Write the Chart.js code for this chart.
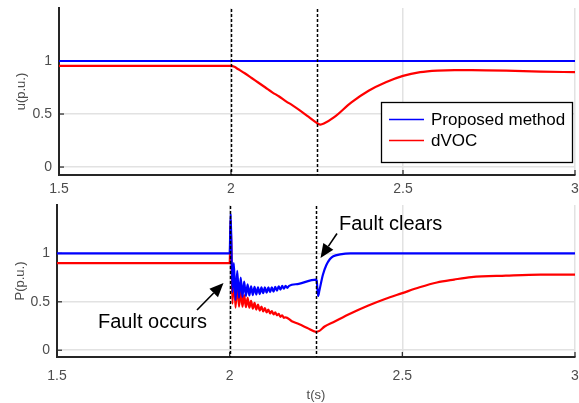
<!DOCTYPE html>
<html><head><meta charset="utf-8">
<script src="https://cdn.jsdelivr.net/npm/chart.js@4/dist/chart.umd.min.js"></script>
<style>
html,body{margin:0;padding:0;background:#fff;}
#wrap{position:relative;width:579px;height:403px;overflow:hidden;}
#c1{position:absolute;left:0;top:0;width:579px;height:195px;}
#c2{position:absolute;left:0;top:195px;width:579px;height:208px;}
</style></head><body>
<div id="wrap"><canvas id="c1" width="579" height="195"></canvas><canvas id="c2" width="579" height="208"></canvas></div>
<script>
// ---- data ----
const xTicks = [1.5, 2, 2.5, 3];
const uTicks = [0, 0.5, 1];
const pTicks = [0, 0.5, 1];
const faultTimes = [2.0, 2.25];
const seriesNames = ['Proposed method', 'dVOC'];

const tUBlue = [1.5, 3.0];
const uBlue  = [1.0, 1.0];

const tURed = [1.5, 2.0, 2.01, 2.02, 2.04, 2.06, 2.08, 2.1, 2.12, 2.14, 2.16, 2.18, 2.2, 2.225, 2.25, 2.26, 2.27, 2.3, 2.35, 2.4, 2.45, 2.5, 2.55, 2.6, 2.65, 2.7, 2.8, 2.9, 3.0];
const uRed  = [0.955, 0.955, 0.945, 0.925, 0.885, 0.84, 0.795, 0.75, 0.705, 0.665, 0.62, 0.58, 0.535, 0.475, 0.415, 0.40, 0.41, 0.47, 0.61, 0.72, 0.80, 0.86, 0.895, 0.91, 0.915, 0.915, 0.91, 0.90, 0.895];

const tPBlue = [1.5, 2.0, 2.003, 2.008, 2.012, 2.017, 2.022, 2.027, 2.032, 2.037, 2.042, 2.047, 2.052, 2.057, 2.062, 2.067, 2.072, 2.077, 2.082, 2.087, 2.092, 2.097, 2.102, 2.107, 2.112, 2.117, 2.122, 2.127, 2.132, 2.137, 2.142, 2.147, 2.152, 2.157, 2.162, 2.167, 2.172, 2.2, 2.25, 2.252, 2.256, 2.26, 2.27, 2.28, 2.29, 2.3, 2.32, 2.35, 3.0];
const pBlue  = [1.0, 1.0, 1.41, 0.60, 0.90, 0.52, 0.82, 0.54, 0.75, 0.55, 0.71, 0.56, 0.68, 0.565, 0.66, 0.57, 0.655, 0.575, 0.65, 0.58, 0.65, 0.59, 0.65, 0.595, 0.65, 0.60, 0.65, 0.605, 0.655, 0.615, 0.66, 0.625, 0.665, 0.635, 0.665, 0.645, 0.665, 0.685, 0.73, 0.72, 0.56, 0.62, 0.78, 0.88, 0.94, 0.97, 0.99, 1.0, 1.0];

const tPRed = [1.5, 2.0, 2.003, 2.008, 2.012, 2.017, 2.022, 2.027, 2.032, 2.037, 2.042, 2.047, 2.052, 2.057, 2.062, 2.067, 2.072, 2.077, 2.082, 2.087, 2.092, 2.097, 2.102, 2.107, 2.112, 2.117, 2.122, 2.127, 2.132, 2.137, 2.142, 2.147, 2.152, 2.157, 2.162, 2.18, 2.2, 2.225, 2.25, 2.26, 2.275, 2.3, 2.35, 2.4, 2.45, 2.5, 2.55, 2.6, 2.65, 2.7, 2.8, 2.9, 3.0];
const pRed  = [0.9, 0.9, 1.35, 0.48, 0.82, 0.44, 0.70, 0.45, 0.62, 0.45, 0.57, 0.445, 0.54, 0.44, 0.51, 0.43, 0.49, 0.42, 0.47, 0.41, 0.45, 0.40, 0.435, 0.39, 0.42, 0.38, 0.405, 0.37, 0.39, 0.36, 0.375, 0.345, 0.36, 0.335, 0.34, 0.30, 0.27, 0.23, 0.19, 0.20, 0.245, 0.29, 0.38, 0.46, 0.53, 0.59, 0.65, 0.70, 0.73, 0.755, 0.77, 0.78, 0.78];

// ---- helpers ----
const zip = (xs, ys) => xs.map((x, i) => ({x: x, y: ys[i]}));
const FONT = "'Liberation Sans', Arial, sans-serif";
const AXC = '#262626';
const TICKC = '#4d4d4d';
const GRIDC = '#e2e2e2';

const decorPlugin = {
  id: 'decor',
  beforeDatasetsDraw(chart) {
    const {ctx, chartArea: a, scales: {x, y}} = chart;
    ctx.save();
    ctx.strokeStyle = AXC; ctx.lineWidth = 1.2;
    y.ticks.forEach(t => { const py = y.getPixelForValue(t.value); ctx.beginPath(); ctx.moveTo(a.left, py); ctx.lineTo(a.left + 5, py); ctx.stroke(); });
    x.ticks.forEach(t => { const px = x.getPixelForValue(t.value); ctx.beginPath(); ctx.moveTo(px, a.bottom); ctx.lineTo(px, a.bottom - 5); ctx.stroke(); });
    ctx.restore();
  },
  afterDatasetsDraw(chart) {
    const {ctx, chartArea: a, scales: {x}} = chart;
    ctx.save();
    ctx.strokeStyle = '#000'; ctx.lineWidth = 1.5; ctx.setLineDash([3, 2]);
    faultTimes.forEach(t => { const px = Math.round(x.getPixelForValue(t)) + 0.5; ctx.beginPath(); ctx.moveTo(px, a.top + 1); ctx.lineTo(px, a.bottom); ctx.stroke(); });
    ctx.restore();
  }
};

function arrow(ctx, x0, y0, x1, y1) {
  const ang = Math.atan2(y1 - y0, x1 - x0);
  const hl = 14, hw = 6;
  const bx = x1 - hl * Math.cos(ang), by = y1 - hl * Math.sin(ang);
  ctx.beginPath(); ctx.moveTo(x0, y0); ctx.lineTo(bx, by); ctx.lineWidth = 1.6; ctx.strokeStyle = '#000'; ctx.stroke();
  ctx.beginPath();
  ctx.moveTo(x1, y1);
  ctx.lineTo(bx + hw * Math.sin(ang), by - hw * Math.cos(ang));
  ctx.lineTo(bx - hw * Math.sin(ang), by + hw * Math.cos(ang));
  ctx.closePath(); ctx.fillStyle = '#000'; ctx.fill();
}

const legendPlugin = {
  id: 'boxLegend',
  afterDraw(chart) {
    const ctx = chart.ctx;
    ctx.save();
    ctx.fillStyle = '#fff'; ctx.fillRect(381, 102, 192, 61);
    ctx.strokeStyle = '#000'; ctx.lineWidth = 1.3; ctx.strokeRect(381.5, 102.5, 191, 60);
    const cols = ['#0000ff', '#ff0000'];
    const ys = [119, 140];
    ctx.font = '17px ' + FONT; ctx.textBaseline = 'middle'; ctx.fillStyle = '#000';
    seriesNames.forEach((n, i) => {
      ctx.strokeStyle = cols[i]; ctx.lineWidth = 1.5;
      ctx.beginPath(); ctx.moveTo(389, ys[i] + 0.5); ctx.lineTo(424, ys[i] + 0.5); ctx.stroke();
      ctx.fillText(n, 431, ys[i] + 1);
    });
    ctx.restore();
  }
};

const annotPlugin = {
  id: 'annot',
  afterDraw(chart) {
    const ctx = chart.ctx;
    ctx.save();
    ctx.font = '20px ' + FONT; ctx.fillStyle = '#000'; ctx.textBaseline = 'alphabetic';
    ctx.fillText('Fault occurs', 98, 133);
    ctx.fillText('Fault clears', 339, 35);
    arrow(ctx, 197, 115, 223.5, 88);
    arrow(ctx, 337, 38.5, 320.5, 63);
    ctx.restore();
  }
};

function zeroPad(s) { s.paddingTop = 0; s.paddingBottom = 0; s.paddingLeft = 0; s.paddingRight = 0; }

function makeChart(id, datasets, yTicks, yTitle, opt) {
  return new Chart(document.getElementById(id), {
    type: 'line',
    data: { datasets: datasets },
    plugins: opt.plugins,
    options: {
      responsive: false, animation: false,
      layout: { padding: { top: opt.top, right: 4, left: 0, bottom: 0 } },
      plugins: { legend: { display: false }, tooltip: { enabled: false } },
      elements: { point: { radius: 0 }, line: { borderWidth: 2.2, cubicInterpolationMode: 'monotone' } },
      scales: {
        x: {
          type: 'linear', min: 1.5, max: 3,
          afterBuildTicks: s => { s.ticks = xTicks.map(v => ({value: v})); },
          afterFit: s => { s.height = opt.xh; zeroPad(s); },
          ticks: { color: TICKC, font: { family: FONT, size: 14 }, padding: opt.xpad, maxRotation: 0, callback: v => String(v) },
          grid: { color: GRIDC, lineWidth: 1.5, drawTicks: false },
          border: { display: true, color: AXC, width: 2 },
          title: opt.xTitle ? { display: true, text: opt.xTitle, color: TICKC, font: { family: FONT, size: 13 }, padding: { top: 5, bottom: 0 } } : { display: false }
        },
        y: {
          type: 'linear', min: opt.ymin, max: 1.5,
          afterBuildTicks: s => { s.ticks = yTicks.map(v => ({value: v})); },
          afterFit: s => { s.width = opt.yw; zeroPad(s); },
          ticks: { color: TICKC, font: { family: FONT, size: 14 }, padding: 7, callback: v => String(v) },
          grid: { color: GRIDC, lineWidth: 1.5, drawTicks: false },
          border: { display: true, color: AXC, width: 2 },
          title: { display: true, text: yTitle, color: TICKC, font: { family: FONT, size: 13 }, padding: { top: opt.ytp, bottom: 0 } }
        }
      }
    }
  });
}

makeChart('c1', [
  { label: seriesNames[0], data: zip(tUBlue, uBlue), borderColor: '#0000ff' },
  { label: seriesNames[1], data: zip(tURed, uRed), borderColor: '#ff0000' }
], uTicks, 'u(p.u.)', { top: 8, xh: 20, xpad: 6, yw: 59, ymin: -0.075, ytp: 14, plugins: [decorPlugin, legendPlugin] });

makeChart('c2', [
  { label: seriesNames[0], data: zip(tPBlue, pBlue), borderColor: '#0000ff' },
  { label: seriesNames[1], data: zip(tPRed, pRed), borderColor: '#ff0000' }
], pTicks, 'P(p.u.)', { top: 10, xh: 46, xpad: 11, yw: 57, ymin: -0.07, ytp: 13, xTitle: 't(s)', plugins: [decorPlugin, annotPlugin] });
</script>
</body></html>
